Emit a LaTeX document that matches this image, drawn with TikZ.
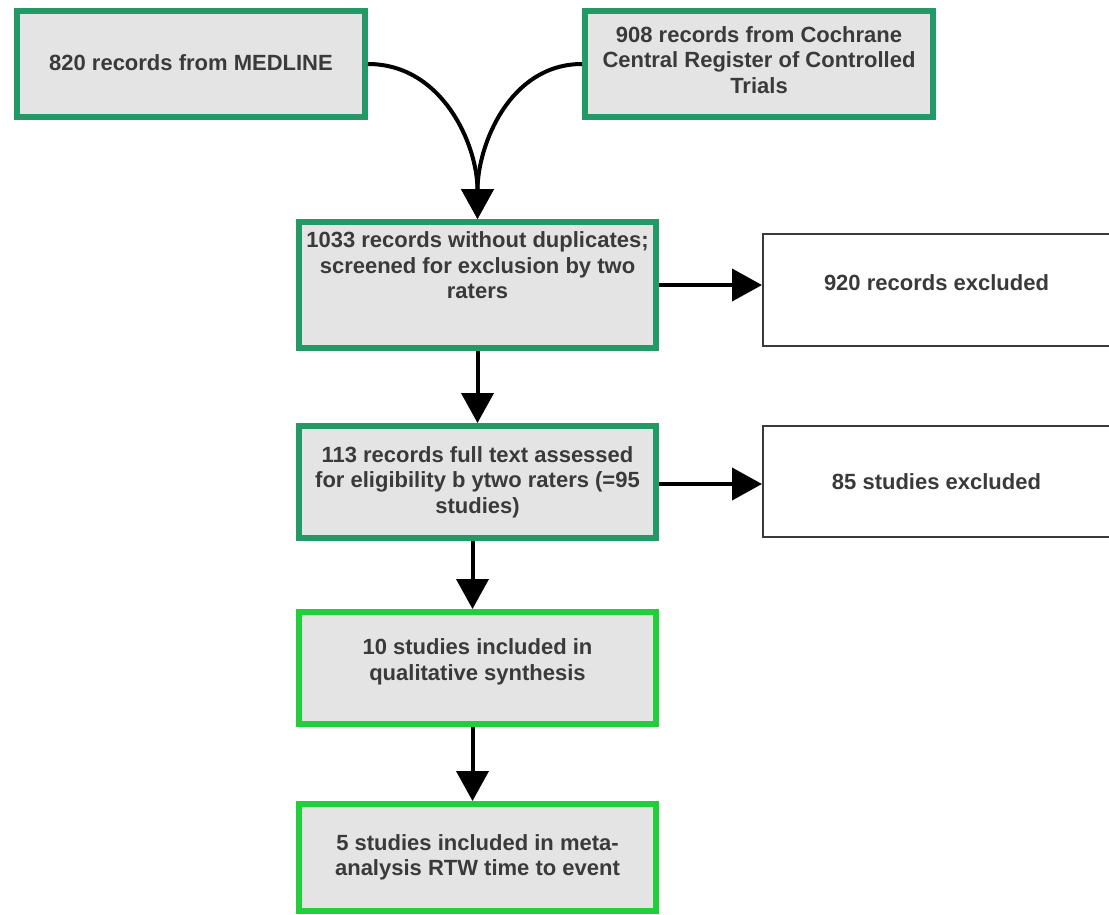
\documentclass[tikz,border=0pt]{standalone}
\usepackage{fontspec}
\setmainfont{Liberation Sans}
\usetikzlibrary{arrows.meta}
\definecolor{boxgreen}{RGB}{34,153,102}
\definecolor{boxlime}{RGB}{34,206,60}
\definecolor{boxgray}{RGB}{228,228,228}
\definecolor{txtgray}{RGB}{58,58,58}
\newcommand{\boxfont}{\fontsize{22}{25.5}\selectfont\bfseries}

\begin{document}
\begin{tikzpicture}[x=1pt,y=-1pt,
  greenbox/.style={draw=boxgreen,line width=6pt,fill=boxgray,align=center,
    inner sep=0pt,text=txtgray,font=\boxfont},
  limebox/.style={greenbox,draw=boxlime},
  exclbox/.style={draw=txtgray,line width=2pt,fill=white,align=center,
    inner sep=0pt,text=txtgray,font=\boxfont,minimum width=347pt},
  arr/.style={line width=4pt,-{Triangle[width=32pt,length=30pt]}}]
  \useasboundingbox (0,0) rectangle (1109,914);
	% quellen
	\node[greenbox,minimum width=348pt,minimum height=106pt] (medline)
    at (191,64) {820 records from MEDLINE\\[-22pt]\mbox{}};
	\node[greenbox,minimum width=348pt,minimum height=106pt] (cochrane)
    at (759,64) {908 records from Cochrane\\Central Register of Controlled\\Trials\\[-17pt]\mbox{}};
	% screening
	\node[greenbox,minimum width=357pt,minimum height=126pt] (dup)
    at (477.5,285) {1033 records without duplicates;\\screened for exclusion by two\\raters\\[14pt]\mbox{}};
	\node[greenbox,minimum width=357pt,minimum height=112pt] (full)
    at (477.5,482) {113 records full text assessed\\for eligibility b ytwo raters (=95\\studies)};
	% ausgeschlossen
	\node[exclbox,minimum height=112pt] (excla)
    at (936.5,290) {920 records excluded\\[-11pt]\mbox{}};
	\node[exclbox,minimum height=111pt] (exclb)
    at (936.5,481.5) {85 studies excluded};
	% eingeschlossen
	\node[limebox,minimum width=357pt,minimum height=112pt] (qual)
    at (477.5,668) {10 studies included in\\qualitative synthesis\\[-9pt]\mbox{}};
	\node[limebox,minimum width=357pt,minimum height=107pt] (meta)
    at (477.5,857.5) {5 studies included in meta-\\analysis RTW time to event};

	% pfeile
	\draw[arr] (medline.east) to[out=0,in=90] (dup.north);
	\draw[arr] (cochrane.west) to[out=180,in=90] (dup.north);
	\draw[arr] (dup.east |- 0,285) -- (excla.west |- 0,285);
	\draw[arr] (full.east |- 0,484) -- (exclb.west |- 0,484);
	\draw[arr] (dup.south) -- (full.north);
	\draw[arr] ([xshift=-5pt]full.south) -- ([xshift=-5pt]qual.north);
	\draw[arr] ([xshift=-5pt]qual.south) -- ([xshift=-5pt]meta.north);
\end{tikzpicture}
\end{document}
